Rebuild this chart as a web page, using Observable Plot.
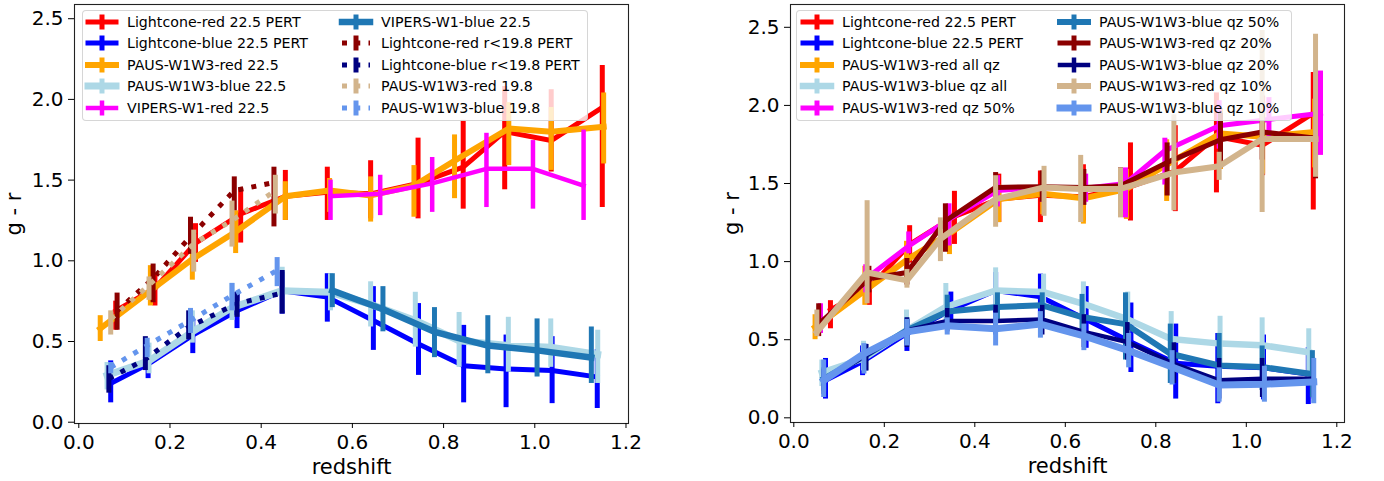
<!DOCTYPE html>
<html>
<head>
<meta charset="utf-8">
<script src="https://cdn.jsdelivr.net/npm/d3@7"></script>
<script src="https://cdn.jsdelivr.net/npm/@observablehq/plot@0.6"></script>
<style>
  body { margin: 0; background: #fff; font-family: "DejaVu Sans", sans-serif; }
  #wrap { position: relative; width: 1384px; height: 481px; overflow: hidden; }
  .panel { position: absolute; top: 0; }
  .legend { position: absolute; background: rgba(255,255,255,0.8); border: 1px solid rgba(204,204,204,0.8);
            border-radius: 4px; box-sizing: border-box; }
  .item { position: absolute; height: 20px; display: flex; align-items: center; font-size: 14.2px;
          color: #000; white-space: nowrap; }
  .item svg { flex: none; margin-right: 11px; }
  g[aria-label="x-axis label"], g[aria-label="y-axis label"] { font-size: 21px; }
</style>
</head>
<body>
<div id="wrap"></div>
<script>
// Rows: [redshift, g - r, lower error bound, upper error bound]
const lcRed = [
  [0.081, 0.69, 0.57, 0.75], [0.167, 0.83, 0.72, 0.92], [0.256, 1.11, 0.99, 1.23],
  [0.355, 1.29, 1.11, 1.45], [0.453, 1.40, 1.25, 1.56], [0.545, 1.425, 1.25, 1.58],
  [0.640, 1.415, 1.26, 1.62], [0.744, 1.48, 1.26, 1.76], [0.843, 1.58, 1.32, 1.87],
  [0.934, 1.80, 1.44, 2.08], [1.036, 1.745, 1.55, 2.06], [1.148, 1.95, 1.33, 2.21]
];
const lcBlue = [
  [0.070, 0.24, 0.12, 0.38], [0.152, 0.36, 0.27, 0.46], [0.250, 0.54, 0.425, 0.63],
  [0.347, 0.69, 0.58, 0.805], [0.446, 0.815, 0.67, 0.93], [0.545, 0.775, 0.62, 0.92],
  [0.646, 0.63, 0.445, 0.84], [0.745, 0.485, 0.29, 0.735], [0.844, 0.35, 0.12, 0.60],
  [0.937, 0.33, 0.09, 0.54], [1.038, 0.32, 0.115, 0.53], [1.137, 0.28, 0.085, 0.45]
];
const pausRed = [
  [0.047, 0.58, 0.50, 0.66], [0.157, 0.815, 0.72, 0.97], [0.249, 1.01, 0.88, 1.13],
  [0.344, 1.18, 1.045, 1.31], [0.453, 1.40, 1.25, 1.49], [0.550, 1.435, 1.30, 1.51],
  [0.640, 1.405, 1.24, 1.52], [0.735, 1.465, 1.27, 1.59], [0.824, 1.62, 1.385, 1.78],
  [0.943, 1.82, 1.59, 1.98], [1.036, 1.80, 1.56, 1.95], [1.151, 1.83, 1.60, 2.04]
];
const pausBlue = [
  [0.062, 0.29, 0.20, 0.37], [0.154, 0.38, 0.30, 0.49], [0.249, 0.56, 0.49, 0.69],
  [0.336, 0.71, 0.63, 0.86], [0.446, 0.815, 0.69, 0.96], [0.552, 0.805, 0.69, 0.92],
  [0.640, 0.73, 0.59, 0.87], [0.738, 0.63, 0.465, 0.805], [0.834, 0.505, 0.34, 0.68],
  [0.942, 0.475, 0.31, 0.65], [1.035, 0.465, 0.34, 0.64], [1.138, 0.42, 0.24, 0.57]
];
const vipersRed = [
  [0.552, 1.40, 1.25, 1.50], [0.661, 1.415, 1.28, 1.53], [0.775, 1.48, 1.30, 1.64],
  [0.894, 1.57, 1.33, 1.79], [0.996, 1.57, 1.32, 1.745], [1.107, 1.465, 1.25, 1.81]
];
const vipersBlue = [
  [0.556, 0.815, 0.71, 0.92], [0.667, 0.70, 0.56, 0.84], [0.780, 0.56, 0.40, 0.71],
  [0.897, 0.475, 0.30, 0.66], [1.005, 0.445, 0.28, 0.64], [1.124, 0.40, 0.24, 0.59]
];
const lcRed198 = [
  [0.084, 0.69, 0.57, 0.80], [0.163, 0.89, 0.74, 0.98], [0.245, 1.15, 1.04, 1.27],
  [0.341, 1.435, 1.31, 1.52], [0.428, 1.485, 1.21, 1.58]
];
const lcBlue198 = [
  [0.066, 0.27, 0.18, 0.35], [0.146, 0.39, 0.32, 0.53], [0.241, 0.59, 0.51, 0.69],
  [0.347, 0.735, 0.65, 0.805], [0.446, 0.80, 0.67, 0.94]
];
const pausRed198 = [
  [0.070, 0.64, 0.54, 0.69], [0.154, 0.85, 0.755, 0.90], [0.252, 1.105, 0.93, 1.19],
  [0.336, 1.25, 1.085, 1.37], [0.431, 1.435, 1.29, 1.53]
];
const pausBlue198 = [
  [0.070, 0.34, 0.30, 0.37], [0.150, 0.475, 0.40, 0.52], [0.245, 0.63, 0.55, 0.705],
  [0.336, 0.785, 0.69, 0.86], [0.435, 0.94, 0.84, 1.02]
];
const qz50Red = [
  [0.059, 0.60, 0.54, 0.73], [0.159, 0.89, 0.80, 0.98], [0.254, 1.10, 1.05, 1.19],
  [0.343, 1.27, 1.10, 1.37], [0.450, 1.455, 1.35, 1.55], [0.550, 1.475, 1.38, 1.56],
  [0.645, 1.47, 1.38, 1.56], [0.733, 1.50, 1.28, 1.60], [0.820, 1.71, 1.49, 1.79],
  [0.940, 1.87, 1.72, 2.03], [1.050, 1.91, 1.78, 2.05], [1.164, 1.95, 1.68, 2.22]
];
const qz50Blue = [
  [0.066, 0.25, 0.17, 0.32], [0.159, 0.40, 0.30, 0.47], [0.250, 0.56, 0.47, 0.64],
  [0.339, 0.68, 0.60, 0.785], [0.450, 0.71, 0.63, 0.80], [0.549, 0.72, 0.64, 0.80],
  [0.637, 0.645, 0.56, 0.79], [0.733, 0.60, 0.37, 0.80], [0.832, 0.41, 0.22, 0.60],
  [0.940, 0.335, 0.24, 0.54], [1.035, 0.325, 0.175, 0.46], [1.146, 0.28, 0.13, 0.43]
];
const qz20Red = [
  [0.055, 0.60, 0.52, 0.73], [0.166, 0.89, 0.80, 0.97], [0.250, 0.93, 0.85, 1.02],
  [0.335, 1.26, 1.06, 1.37], [0.446, 1.475, 1.35, 1.57], [0.549, 1.48, 1.38, 1.58],
  [0.641, 1.475, 1.36, 1.59], [0.722, 1.485, 1.35, 1.60], [0.825, 1.635, 1.42, 1.76],
  [0.943, 1.78, 1.60, 1.95], [1.035, 1.83, 1.65, 2.00], [1.153, 1.79, 1.53, 2.20]
];
const qz20Blue = [
  [0.066, 0.24, 0.15, 0.31], [0.160, 0.40, 0.30, 0.47], [0.250, 0.56, 0.45, 0.64],
  [0.339, 0.62, 0.55, 0.70], [0.446, 0.62, 0.53, 0.72], [0.549, 0.63, 0.53, 0.72],
  [0.641, 0.55, 0.45, 0.66], [0.737, 0.485, 0.37, 0.61], [0.840, 0.345, 0.22, 0.48],
  [0.940, 0.24, 0.12, 0.38], [1.035, 0.25, 0.13, 0.38], [1.149, 0.25, 0.12, 0.38]
];
const qz10Red = [
  [0.051, 0.55, 0.52, 0.69], [0.162, 0.93, 0.73, 1.39], [0.250, 0.88, 0.83, 0.95],
  [0.324, 1.145, 1.00, 1.28], [0.446, 1.40, 1.22, 1.55], [0.553, 1.475, 1.29, 1.61],
  [0.634, 1.465, 1.25, 1.68], [0.722, 1.465, 1.28, 1.60], [0.840, 1.57, 1.325, 1.94],
  [0.940, 1.61, 1.52, 1.70], [1.035, 1.785, 1.315, 2.48], [1.153, 1.785, 1.54, 2.455]
];
const qz10Blue = [
  [0.066, 0.24, 0.13, 0.37], [0.155, 0.41, 0.28, 0.475], [0.250, 0.55, 0.46, 0.63],
  [0.339, 0.59, 0.53, 0.64], [0.446, 0.57, 0.46, 0.67], [0.545, 0.60, 0.51, 0.68],
  [0.641, 0.525, 0.43, 0.60], [0.740, 0.43, 0.32, 0.54], [0.836, 0.325, 0.21, 0.43],
  [0.940, 0.21, 0.10, 0.32], [1.040, 0.215, 0.10, 0.33], [1.149, 0.23, 0.09, 0.38]
];

const xTicks = [0, 0.2, 0.4, 0.6, 0.8, 1.0, 1.2];
const yTicks = [0, 0.5, 1.0, 1.5, 2.0, 2.5];

const leftSeries = [
  {label: "Lightcone-red 22.5 PERT", data: lcRed, color: "#ff0000", lw: 5, ew: 5},
  {label: "Lightcone-blue 22.5 PERT", data: lcBlue, color: "#0000ff", lw: 5, ew: 5},
  {label: "PAUS-W1W3-red 22.5", data: pausRed, color: "#ffa500", lw: 6, ew: 5},
  {label: "PAUS-W1W3-blue 22.5", data: pausBlue, color: "#add8e6", lw: 7, ew: 5},
  {label: "VIPERS-W1-red 22.5", data: vipersRed, color: "#ff00ff", lw: 4.5, ew: 4.5},
  {label: "VIPERS-W1-blue 22.5", data: vipersBlue, color: "#1f77b4", lw: 6.5, ew: 5},
  {label: "Lightcone-red r<19.8 PERT", data: lcRed198, color: "#8b0000", lw: 5, ew: 5, dotted: true},
  {label: "Lightcone-blue r<19.8 PERT", data: lcBlue198, color: "#000080", lw: 5, ew: 5, dotted: true},
  {label: "PAUS-W1W3-red 19.8", data: pausRed198, color: "#d2b48c", lw: 5, ew: 5, dotted: true},
  {label: "PAUS-W1W3-blue 19.8", data: pausBlue198, color: "#6495ed", lw: 5, ew: 5, dotted: true}
];
const rightSeries = [
  {label: "Lightcone-red 22.5 PERT", data: lcRed, color: "#ff0000", lw: 5, ew: 5},
  {label: "Lightcone-blue 22.5 PERT", data: lcBlue, color: "#0000ff", lw: 5, ew: 5},
  {label: "PAUS-W1W3-red all qz", data: pausRed, color: "#ffa500", lw: 6, ew: 5},
  {label: "PAUS-W1W3-blue qz all", data: pausBlue, color: "#add8e6", lw: 6.5, ew: 5},
  {label: "PAUS-W1W3-red qz 50%", data: qz50Red, color: "#ff00ff", lw: 5, ew: 5},
  {label: "PAUS-W1W3-blue qz 50%", data: qz50Blue, color: "#1f77b4", lw: 6, ew: 5},
  {label: "PAUS-W1W3-red qz 20%", data: qz20Red, color: "#8b0000", lw: 5, ew: 5},
  {label: "PAUS-W1W3-blue qz 20%", data: qz20Blue, color: "#000080", lw: 4.5, ew: 4.5},
  {label: "PAUS-W1W3-red qz 10%", data: qz10Red, color: "#d2b48c", lw: 6, ew: 5},
  {label: "PAUS-W1W3-blue qz 10%", data: qz10Blue, color: "#6495ed", lw: 7, ew: 5}
];

const fmt = d3.format(".1f");

function drawPanel(series, o) {
  const marks = [];
  for (const s of series) {
    const rows = s.data.map(([z, gr, lo, hi]) => ({z, gr, lo, hi}));
    marks.push(Plot.ruleX(rows, {x: "z", y1: "lo", y2: "hi", stroke: s.color, strokeWidth: s.ew, strokeLinecap: "butt"}));
    marks.push(Plot.line(rows, {
      x: "z", y: "gr", stroke: s.color, strokeWidth: s.lw, strokeLinejoin: "round",
      strokeLinecap: s.dotted ? "butt" : "square",
      strokeDasharray: s.dotted ? `${s.lw} ${(s.lw * 1.65).toFixed(2)}` : undefined
    }));
  }
  marks.push(Plot.frame({stroke: "#222", strokeWidth: 1.1}));
  marks.push(Plot.axisX({ticks: xTicks, tickFormat: fmt, tickSize: 5, tickPadding: 6,
    label: "redshift", labelAnchor: "center", labelArrow: "none", labelOffset: 50}));
  marks.push(Plot.axisY({ticks: yTicks, tickFormat: fmt, tickSize: 6, tickPadding: 5,
    label: "g - r", labelAnchor: "center", labelArrow: "none", labelOffset: o.yLabelOffset}));
  return Plot.plot({
    width: o.width, height: 481,
    marginLeft: o.marginLeft, marginRight: o.marginRight, marginTop: 4, marginBottom: o.marginBottom,
    x: {domain: o.xDomain}, y: {domain: o.yDomain},
    style: {fontFamily: "DejaVu Sans", fontSize: "20px", color: "#000", background: "transparent", overflow: "visible"},
    marks
  });
}

function handle(s) {
  const w = 28, h = 20, mid = h / 2;
  const dash = s.dotted ? `stroke-dasharray="${s.lw} ${(s.lw * 1.65).toFixed(2)}"` : "";
  const cap = s.dotted ? "butt" : "square";
  return `<svg width="${w}" height="${h}" style="overflow:visible">` +
    `<line x1="0" x2="${w}" y1="${mid}" y2="${mid}" stroke="${s.color}" stroke-width="${s.lw}" stroke-linecap="${cap}" ${dash}/>` +
    `<line x1="${w / 2}" x2="${w / 2}" y1="${mid - 7.5}" y2="${mid + 7.5}" stroke="${s.color}" stroke-width="${s.ew}"/>` +
    `</svg>`;
}

function legend(series, box) {
  const el = document.createElement("div");
  el.className = "legend";
  Object.assign(el.style, {left: box.left + "px", top: box.top + "px", width: box.width + "px", height: box.height + "px"});
  series.forEach((s, i) => {
    const col = Math.floor(i / 5), row = i % 5;
    const it = document.createElement("div");
    it.className = "item";
    it.style.left = box.cols[col] + "px";
    it.style.top = (box.firstRow + row * box.rowStep - 10) + "px";
    it.innerHTML = handle(s) + `<span>${s.label}</span>`;
    el.appendChild(it);
  });
  return el;
}

const wrap = document.getElementById("wrap");

const left = document.createElement("div");
left.className = "panel"; left.style.left = "0px";
left.appendChild(drawPanel(leftSeries, {
  width: 692, marginLeft: 74, marginRight: 64, marginBottom: 58,
  xDomain: [-0.0094, 1.2055], yDomain: [-0.008, 2.588], yLabelOffset: 68
}));
wrap.appendChild(left);

const right = document.createElement("div");
right.className = "panel"; right.style.left = "692px";
right.appendChild(drawPanel(rightSeries, {
  width: 692, marginLeft: 98, marginRight: 40, marginBottom: 59,
  xDomain: [-0.0073, 1.217], yDomain: [-0.03, 2.646], yLabelOffset: 66
}));
wrap.appendChild(right);

wrap.appendChild(legend(leftSeries, {left: 82, top: 10, width: 506, height: 111, firstRow: 10.5, rowStep: 21.6, cols: [5, 259]}));
wrap.appendChild(legend(rightSeries, {left: 796, top: 10, width: 496, height: 111, firstRow: 10.5, rowStep: 21.6, cols: [6, 263]}));
</script>
</body>
</html>
